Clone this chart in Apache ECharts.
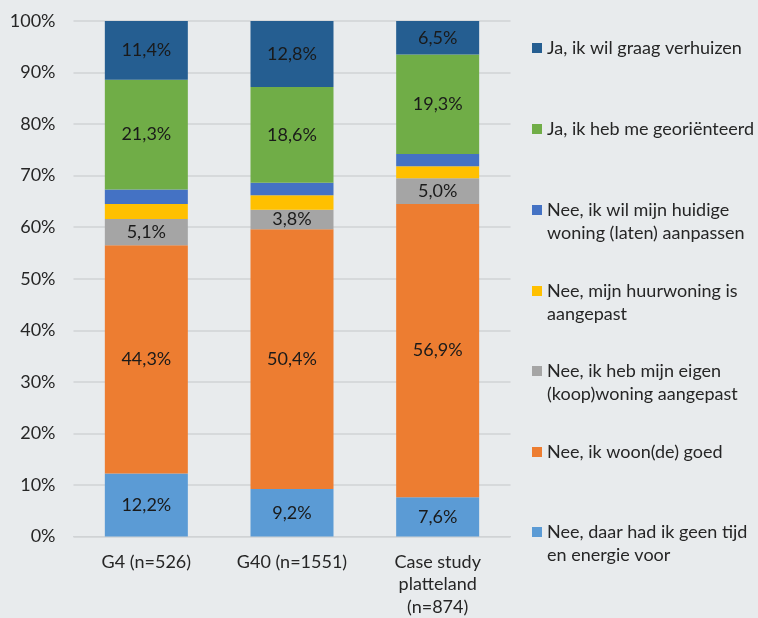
<!DOCTYPE html>
<html>
<head>
<meta charset="utf-8">
<script src="https://cdn.jsdelivr.net/npm/echarts@6/dist/echarts.min.js"></script>
<style>
  html, body { margin: 0; padding: 0; background: #e8ebed; }
  #chart { width: 758px; height: 618px; }
</style>
</head>
<body>
<div id="chart"></div>
<script>
var categories = ["G4 (n=526)", "G40 (n=1551)", "Case study\nplatteland\n(n=874)"];

// bottom to top
var seriesNames = [
  "Nee, daar had ik geen tijd\nen energie voor",
  "Nee, ik woon(de) goed",
  "Nee, ik heb mijn eigen\n(koop)woning aangepast",
  "Nee, mijn huurwoning is\naangepast",
  "Nee, ik wil mijn huidige\nwoning (laten) aanpassen",
  "Ja, ik heb me georiënteerd",
  "Ja, ik wil graag verhuizen"
];
var geenTijd = [12.2, 9.2, 7.6];
var woonGoed = [44.3, 50.4, 56.9];
var koopAangepast = [5.1, 3.8, 5.0];
var huurAangepast = [2.9, 2.8, 2.3];
var wilAanpassen = [2.8, 2.4, 2.4];
var georienteerd = [21.3, 18.6, 19.3];
var verhuizen = [11.4, 12.8, 6.5];

var seriesValues = [geenTijd, woonGoed, koopAangepast, huurAangepast, wilAanpassen, georienteerd, verhuizen];
var colors = ["#5b9bd5", "#ed7d31", "#a5a5a5", "#ffc000", "#4472c4", "#70ad47", "#255e91"];
var showLabel = [true, true, true, false, false, true, true];
var yTicks = [0, 10, 20, 30, 40, 50, 60, 70, 80, 90, 100];

// legend icon centres (top to bottom = series reversed)
var legendTops = [532, 452, 371, 291, 210, 129, 48];

var font = "Lato, 'Open Sans', sans-serif";
var fs = 18;
var lh = 23;

var series = seriesValues.map(function (vals, i) {
  return {
    name: seriesNames[i],
    type: "bar",
    stack: "total",
    barWidth: 83,
    data: vals,
    itemStyle: { color: colors[i] },
    label: {
      show: showLabel[i],
      position: "inside",
      color: "#1a1a1a",
      fontFamily: font,
      fontSize: fs,
      formatter: function (p) {
        return p.value.toFixed(1).replace(".", ",") + "%";
      }
    }
  };
});

// two-line names get a blank first line so the icon sits beside line one
var legends = seriesNames.map(function (name, i) {
  var twoLine = name.indexOf("\n") >= 0;
  return {
    data: [name],
    left: 532,
    top: twoLine ? legendTops[i] - lh * 1.5 : legendTops[i] - lh / 2,
    orient: "vertical",
    icon: "rect",
    itemWidth: 10,
    itemHeight: 10,
    itemGap: 0,
    padding: 0,
    selectedMode: false,
    formatter: function (n) {
      return n.indexOf("\n") >= 0 ? "\u00a0\n" + n : n;
    },
    textStyle: {
      color: "#262626",
      fontFamily: font,
      fontSize: fs,
      lineHeight: lh
    }
  };
});

var chart = echarts.init(document.getElementById("chart"));
chart.setOption({
  backgroundColor: "#e8ebed",
  animation: false,
  legend: legends,
  grid: { left: 73.5, right: 247.5, top: 21, bottom: 81, containLabel: false },
  xAxis: {
    type: "category",
    data: categories,
    axisTick: { show: false },
    axisLine: { lineStyle: { color: "#d0d3d5", width: 1 } },
    axisLabel: {
      color: "#262626",
      fontFamily: font,
      fontSize: fs,
      lineHeight: 22.5,
      margin: 14,
      interval: 0
    }
  },
  yAxis: {
    type: "value",
    min: yTicks[0],
    max: yTicks[yTicks.length - 1],
    interval: 10,
    axisLine: { show: false },
    axisTick: { show: false },
    splitLine: { lineStyle: { color: "#d0d3d5", width: 1.5 } },
    axisLabel: {
      color: "#262626",
      fontFamily: font,
      fontSize: fs,
      margin: 18,
      formatter: "{value}%"
    }
  },
  series: series
});
</script>
</body>
</html>
